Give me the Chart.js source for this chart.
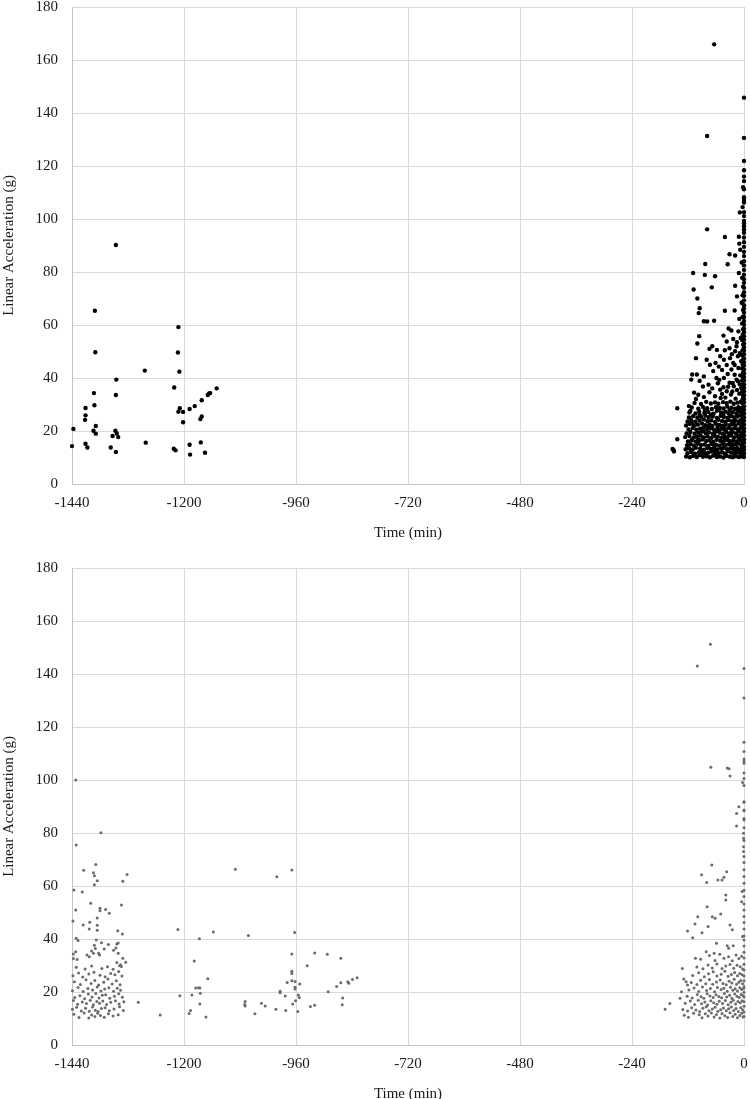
<!DOCTYPE html>
<html>
<head>
<meta charset="utf-8">
<script src="https://cdn.jsdelivr.net/npm/chart.js@4.4.1/dist/chart.umd.min.js"></script>
<style>
  html, body { margin: 0; padding: 0; background: #fff; overflow: hidden; }
  .box { position: absolute; left: 0; width: 750px; height: 550px; }
</style>
</head>
<body>
<div class="box" style="top:0"><canvas id="chartTop"></canvas></div>
<div class="box" style="top:561px"><canvas id="chartBottom"></canvas></div>
<script>
// axes
const timeTicks = [-1440, -1200, -960, -720, -480, -240, 0];
const accelTicks = [0, 20, 40, 60, 80, 100, 120, 140, 160, 180];

// ---- top chart (black) ----
// [time (min), acceleration (g)]
const topEarly = [
  [-1437,20.8],[-1440,14.3],[-1411,28.7],[-1411,25.9],[-1412,24.2],[-1411,15.2],[-1407,13.8],[-1391,65.4],
  [-1390,49.7],[-1393,34.3],[-1392,29.7],[-1389,21.9],[-1394,20.1],[-1389,19.0],[-1346,90.2],[-1345,39.4],
  [-1346,33.6],[-1347,20.1],[-1344,19.1],[-1353,18.1],[-1341,17.7],[-1357,13.8],[-1346,12.1],[-1284,42.8],
  [-1282,15.6],[-1212,59.2],[-1213,49.6],[-1210,42.4],[-1221,36.4],[-1209,28.6],[-1212,27.3],[-1202,27.2],
  [-1202,23.3],[-1222,13.3],[-1218,12.7],[-1188,28.3],[-1177,29.4],[-1162,31.6],[-1165,24.5],[-1162,25.5],
  [-1188,14.8],[-1187,11.1],[-1164,15.7],[-1155,11.8],[-1149,33.6],[-1146,34.2],[-1144,34.3],[-1130,36.1]
];

const topLateBlock = [
  [-124,10.4],[-116,10.1],[-109,10.6],[-101,10.2],[-95,10.9],[-88,10.3],[-80,10.5],[-73,10.1],[-66,10.7],[-58,10.2],[-51,10.4],[-44,10.0],[-37,10.6],[-30,10.3],[-24,10.1],[-17,10.5],[-11,10.2],[-6,10.4],
  [-121,11.6],[-113,12.1],[-105,11.4],[-97,11.9],[-90,12.3],[-83,11.5],[-77,11.8],[-69,12.2],[-62,11.3],[-55,11.7],[-47,12.0],[-41,11.5],[-34,12.3],[-27,11.8],[-20,11.4],[-14,12.0],[-8,11.6],
  [-125,13.1],[-118,13.5],[-110,13.0],[-103,13.7],[-94,13.3],[-86,12.9],[-79,13.6],[-71,13.2],[-64,13.8],[-57,13.0],[-49,13.4],[-43,13.7],[-36,13.1],[-29,13.5],[-22,13.2],[-15,13.6],[-9,13.0],[-5,13.4],
  [-122,14.6],[-114,15.0],[-107,14.5],[-99,15.2],[-92,14.7],[-84,14.9],[-76,14.4],[-68,15.1],[-60,14.8],[-53,14.5],[-46,15.2],[-39,14.7],[-32,15.0],[-25,14.6],[-18,14.9],[-12,15.3],[-6,14.7],
  [-120,16.1],[-112,16.6],[-104,16.0],[-96,16.4],[-89,16.8],[-81,16.2],[-74,16.5],[-66,15.9],[-59,16.7],[-51,16.3],[-44,16.0],[-37,16.6],[-31,16.2],[-23,16.5],[-16,16.1],[-10,16.8],[-5,16.4],
  [-126,17.7],[-117,18.1],[-108,17.5],[-101,17.9],[-93,18.3],[-86,17.6],[-78,18.0],[-70,17.4],[-63,18.2],[-56,17.8],[-48,17.5],[-42,18.1],[-35,17.7],[-28,18.3],[-21,17.6],[-14,17.9],[-8,18.2],
  [-123,19.1],[-115,19.6],[-106,19.0],[-98,19.4],[-91,19.8],[-82,19.2],[-75,19.5],[-67,18.9],[-61,19.7],[-52,19.3],[-45,19.0],[-38,19.6],[-30,19.2],[-24,19.5],[-17,19.1],[-11,19.8],[-5,19.4],
  [-119,20.6],[-110,21.1],[-102,20.5],[-94,20.9],[-87,21.3],[-79,20.7],[-71,21.0],[-64,20.4],[-57,21.2],[-49,20.8],[-41,20.5],[-34,21.1],[-27,20.7],[-20,21.0],[-13,20.6],[-7,21.2],
  [-124,22.1],[-116,22.6],[-107,22.0],[-99,22.4],[-90,22.8],[-83,22.2],[-74,22.5],[-68,21.9],[-60,22.7],[-53,22.3],[-46,22.0],[-39,22.6],[-31,22.2],[-25,22.5],[-18,22.1],[-11,22.8],[-5,22.4],
  [-121,23.6],[-113,24.1],[-104,23.5],[-95,23.9],[-86,24.3],[-78,23.7],[-70,24.0],[-62,23.4],[-55,24.2],[-47,23.8],[-40,23.5],[-33,24.1],[-26,23.7],[-19,24.0],[-12,23.6],[-6,24.3],
  [-118,25.1],[-109,25.6],[-100,25.0],[-92,25.4],[-83,25.8],[-76,25.2],[-67,25.5],[-58,24.9],[-50,25.7],[-43,25.3],[-35,25.0],[-28,25.6],[-21,25.2],[-14,25.5],[-8,25.9],
  [-117,27.0],[-104,26.6],[-96,27.4],[-85,26.8],[-77,27.2],[-65,26.5],[-58,27.6],[-49,26.9],[-40,27.3],[-33,26.7],[-24,27.1],[-16,26.6],[-9,27.4],
  [-112,28.9],[-98,28.4],[-88,29.1],[-79,28.6],[-69,28.3],[-60,29.0],[-52,28.7],[-44,28.5],[-36,29.2],[-27,28.8],[-19,28.4],[-12,29.0],[-6,28.6],
  [-106,30.6],[-92,30.2],[-81,31.0],[-71,30.4],[-62,30.8],[-55,30.3],[-45,30.9],[-37,30.5],[-29,31.1],[-22,30.3],[-14,30.7],[-7,31.0],
  [-113,12.7],[-91,11.0],[-62,12.6],[-39,11.0],[-19,12.7],[-98,16.9],[-70,15.5],[-41,17.1],[-26,15.5],[-87,19.9],[-55,20.0],[-32,18.6],
  [-112,23.0],[-77,21.6],[-43,21.7],[-22,23.1],[-95,26.1],[-71,26.2],[-45,26.2],[-29,25.9],[-84,27.9],[-54,28.0],[-31,27.9],[-14,28.0]
];

const topLateSparse = [
  [-64,165.9],[-79,131.3],[-79,96.1],[-41,93.2],[-11,93.3],[-10,90.7],[-9,102.5],
  [-31,86.7],[-19,86.2],[-35,82.9],[-83,83.0],[-5,83.6],[-8,88.4],
  [-109,79.6],[-84,78.9],[-62,78.4],[-11,79.6],[-108,73.4],[-69,74.2],[-19,74.8],[-100,70.0],[-5,68.5],[-15,70.8],
  [-97,64.5],[-95,66.3],[-41,65.4],[-20,65.5],[-10,62.3],[-86,61.4],[-79,61.3],[-64,61.6],[-33,58.7],[-12,57.6],[-27,57.9],
  [-96,55.8],[-100,53.0],[-74,51.0],[-68,52.0],[-44,56.0],[-37,53.8],[-23,54.7],[-16,52.0],[-58,50.6],[-31,51.2],[-7,55.1],[-19,50.1],[-9,49.4],
  [-103,47.5],[-80,46.9],[-73,45.0],[-61,45.7],[-51,48.2],[-43,46.9],[-30,47.5],[-23,45.7],[-13,48.2],[-54,44.3],[-37,44.9],[-6,46.3],
  [-111,41.3],[-101,41.3],[-113,39.4],[-86,40.6],[-76,37.5],[-59,40.0],[-43,40.0],[-51,35.6],[-24,38.1],[-16,39.4],[-35,41.5],[-8,41.0],[-66,42.6],[-27,43.2],[-12,43.8],
  [-98,33.7],[-74,34.6],[-62,33.1],[-103,32.1],[-37,35.0],[-86,32.8],[-50,32.5],[-28,33.8],[-18,32.2],[-10,34.1],[-44,36.5],[-22,36.9],[-6,36.2],[-31,38.2],[-13,38.8],
  [-151,12.8],[-153,13.2],[-150,12.3],[-143,16.9],[-143,28.6],[-118,29.4],[-115,27.6],
  [-56,38.0],[-47,34.0],[-40,32.6],[-34,36.7],[-25,34.9],[-20,41.2],[-15,35.5],[-9,37.6],[-53,39.3],[-68,36.1],
  [-47,43.0],[-20,44.9],[-26,49.0],[-15,53.5],[-41,50.5],[-88,36.8],[-95,38.9],[-107,34.5]
];

const topNearZero = [
  [-3,10.9],[-2,12.4],[-4,13.8],[-3,15.2],[-2,16.5],[-4,18.0],[-3,19.4],[-2,20.8],[-4,22.1],[-3,23.6],[-2,25.0],[-4,26.4],[-3,27.7],
  [-2,29.1],[-4,30.6],[-3,32.0],[-2,33.3],[-4,34.8],[-3,36.1],[-2,37.6],[-4,39.0],[-3,40.5],[-2,42.0],[-4,43.6],[-3,45.1],[-2,47.0],
  [-4,48.6],[-3,50.5],[-2,52.6],[-4,54.3],[-3,56.2],[-2,58.4],[-4,60.6],[-3,63.0],[-2,65.7],[-4,68.3],[-3,71.2],[-2,74.5],[-4,77.8],
  [-2,112.0],[-3,104.5]
];

// acceleration values recorded at time 0
const topAtZero = [145.8,130.6,121.9,118.4,116.0,114.3,111.2,108.2,107.2,106.2,102.6,101.1,99.3,98.3,97.3,96.1,
  94.8,93.0,91.2,89.5,87.6,86.0,84.1,82.5,80.8,79.0,77.3,75.9,74.1,72.4,71.0,69.3,67.5,66.2,64.6,63.0,61.5,60.1,
  58.6,57.3,55.8,54.5,53.0,51.6,50.3,48.9,47.4,46.0,44.7,43.2,41.8,40.4,39.1,37.6,36.3,34.9,33.5,32.1,30.8,29.3,
  28.0,26.6,25.2,23.9,22.4,21.0,19.7,18.3,16.9,15.6,14.1,12.9,11.5,10.2];

// ---- bottom chart (grey) ----
const bottomEarlyUpper = [
  [-1432,100.0],[-1431,75.5],[-1378,80.1],[-1436,58.5],[-1418,57.7],[-1415,65.9],[-1389,68.1],[-1394,65.0],[-1392,63.9],
  [-1386,62.0],[-1392,60.5],[-1322,64.3],[-1331,61.8],[-1432,50.9],[-1400,53.5],[-1380,51.6],[-1380,50.7],[-1368,51.1],
  [-1360,49.7],[-1334,52.8],[-1438,46.8],[-1416,45.3],[-1402,46.3],[-1386,47.9],[-1386,45.2],[-1403,43.8],[-1386,43.3],
  [-1342,43.1],[-1332,41.9],[-1431,40.3],[-1427,39.4],[-1437,34.3],[-1432,35.2],[-1437,32.6],[-1429,32.3],[-1408,34.0],
  [-1398,35.5],[-1403,33.3],[-1388,39.6],[-1377,38.6],[-1362,37.9],[-1392,37.6],[-1390,36.4],[-1394,34.6],[-1383,34.6],
  [-1381,34.0],[-1371,36.2],[-1351,35.8],[-1344,38.1],[-1341,38.5],[-1346,36.6],[-1341,34.6],[-1344,31.1],[-1336,30.3],
  [-1331,32.7],[-1334,29.6],[-1325,31.2]
];

const bottomEarlyDense = [
  [-1436,11.6],[-1425,10.4],[-1414,12.1],[-1404,10.2],[-1398,11.3],[-1391,10.8],[-1385,12.0],[-1379,11.1],[-1371,10.5],[-1362,11.8],[-1352,10.9],[-1341,11.4],
  [-1439,13.5],[-1430,14.2],[-1420,12.8],[-1411,13.9],[-1403,12.7],[-1396,14.3],[-1390,13.1],[-1384,12.6],[-1377,13.8],[-1369,14.1],[-1360,12.9],[-1350,13.6],[-1338,14.4],[-1330,13.0],
  [-1437,16.8],[-1428,15.4],[-1418,16.2],[-1409,15.7],[-1401,16.9],[-1394,15.2],[-1387,16.4],[-1381,15.8],[-1374,16.6],[-1366,15.3],[-1357,16.1],[-1347,16.7],[-1339,15.5],[-1329,16.3],
  [-1434,17.9],[-1423,18.6],[-1413,17.5],[-1405,19.2],[-1397,18.1],[-1389,19.4],[-1382,17.7],[-1375,18.8],[-1368,19.0],[-1359,17.6],[-1349,18.4],[-1340,19.3],[-1332,18.0],
  [-1439,20.5],[-1427,21.7],[-1416,20.2],[-1406,21.3],[-1396,20.8],[-1386,21.9],[-1378,20.4],[-1370,21.1],[-1361,21.6],[-1351,20.3],[-1343,21.4],[-1336,20.7],
  [-1435,23.9],[-1422,22.8],[-1410,24.6],[-1399,23.2],[-1391,24.3],[-1383,22.6],[-1372,23.7],[-1363,24.9],[-1354,23.0],[-1345,24.2],[-1337,22.7],
  [-1438,26.1],[-1426,27.2],[-1417,25.7],[-1404,26.8],[-1393,27.5],[-1380,26.3],[-1369,25.8],[-1357,27.0],[-1348,26.5],[-1340,27.7],[-1333,26.0],
  [-1431,29.3],[-1412,28.7],[-1398,29.8],[-1376,28.9],[-1364,29.5],[-1352,28.6],[-1338,29.9]
];

const bottomMiddle = [
  [-1298,16.1],[-1251,11.3],[-1213,43.6],[-1209,18.6],[-1183,18.9],[-1178,31.7],[-1175,21.5],[-1169,21.6],[-1166,21.5],
  [-1165,19.5],[-1167,40.1],[-1166,15.5],[-1186,13.0],[-1189,11.9],[-1153,10.6],[-1149,25.0],[-1137,42.6],[-1090,66.3],
  [-1062,41.3],[-1001,63.5],[-969,66.0],[-963,42.5],[-969,34.3],[-920,34.7],[-893,34.2],[-864,32.7],[-936,29.9],
  [-969,27.8],[-969,27.0],[-979,23.6],[-969,24.2],[-962,24.0],[-952,23.0],[-962,21.8],[-962,21.1],[-994,20.3],
  [-994,19.7],[-983,18.5],[-955,18.9],[-953,17.9],[-961,16.7],[-967,15.5],[-956,12.6],[-982,13.0],[-1003,13.5],
  [-1026,14.7],[-1034,15.8],[-1069,16.4],[-1070,15.3],[-1069,14.7],[-1048,11.8],[-929,14.5],[-920,15.0],[-891,20.1],
  [-873,22.1],[-864,23.5],[-849,23.9],[-847,23.3],[-839,24.7],[-829,25.4],[-860,17.7],[-861,15.2]
];

const bottomLateSparse = [
  [-72,151.2],[-100,143.0],[-71,104.8],[-36,104.5],[-32,104.2],[-30,101.5],[-3,99.1],[-11,89.9],[-16,87.4],[-16,82.6],
  [-1,79.9],[-1,78.0],[-1,74.8],[-1,73.0],
  [-69,67.9],[-91,64.2],[-80,61.3],[-37,65.4],[-43,63.3],[-56,62.3],[-47,62.3],[-4,57.9],[-39,56.6],[-39,54.7],[-5,54.1],
  [-79,52.2],[-99,48.4],[-68,48.4],[-50,49.4],[-105,45.7],[-77,44.7],[-62,47.8],[-30,45.3],[-25,43.5],[-121,43.0],
  [-110,40.5],[-3,40.9],[-90,42.4],[-59,38.4],[-36,37.5],[-33,36.5],[-23,37.5],[-104,32.7],[-81,35.2],[-64,34.6],
  [-132,28.9],[-129,24.9],[-124,23.9],[-121,22.6],[-134,20.1],[-137,17.6],[-159,15.7],[-169,13.5]
];

const bottomLateDense = [
  [-128,11.2],[-119,10.5],[-108,12.0],[-96,11.4],[-90,10.3],[-83,11.8],[-77,10.9],[-70,12.1],[-64,10.6],[-59,11.5],[-52,10.2],[-47,11.9],[-41,11.0],[-35,10.4],[-30,12.2],[-24,10.8],[-19,11.6],[-14,10.3],[-9,11.1],[-5,12.0],[-2,10.6],
  [-131,13.4],[-121,12.8],[-112,14.1],[-103,13.2],[-95,12.6],[-88,13.9],[-81,14.4],[-75,12.9],[-68,13.6],[-62,14.2],[-56,12.7],[-50,13.3],[-44,14.0],[-38,12.9],[-33,13.7],[-27,14.3],[-22,13.0],[-17,13.8],[-12,12.6],[-7,14.1],[-3,13.3],
  [-126,15.8],[-115,16.6],[-106,15.3],[-98,16.9],[-91,15.6],[-84,16.2],[-78,15.1],[-71,16.7],[-65,15.9],[-58,15.4],[-53,16.5],[-46,15.7],[-40,16.8],[-34,15.2],[-28,16.1],[-23,16.9],[-18,15.5],[-13,16.4],[-8,15.9],[-4,16.7],
  [-122,18.4],[-111,17.7],[-100,19.1],[-92,18.2],[-86,17.6],[-79,19.3],[-73,18.5],[-66,17.9],[-60,19.0],[-54,18.3],[-48,17.8],[-42,19.4],[-37,18.1],[-31,18.8],[-26,17.6],[-20,19.2],[-15,18.4],[-10,17.9],[-6,19.1],[-2,18.6],
  [-118,20.8],[-107,21.5],[-97,20.2],[-89,21.9],[-80,20.6],[-72,21.3],[-63,20.1],[-57,21.7],[-49,20.9],[-43,21.4],[-36,20.3],[-29,21.8],[-24,20.7],[-19,21.2],[-14,20.4],[-9,21.6],[-5,20.9],[-1,21.3],
  [-113,23.6],[-101,22.8],[-93,24.4],[-82,23.1],[-74,24.7],[-67,22.9],[-59,23.8],[-51,24.5],[-45,23.2],[-38,22.7],[-32,24.1],[-26,23.4],[-21,24.8],[-16,22.9],[-11,23.7],[-7,24.3],[-3,23.1],
  [-110,26.2],[-97,27.3],[-85,25.8],[-76,26.9],[-66,27.6],[-58,26.0],[-49,26.7],[-41,27.8],[-34,25.9],[-27,26.6],[-20,27.4],[-14,26.1],[-9,27.0],[-4,26.5],
  [-101,29.4],[-88,28.8],[-77,30.2],[-68,29.1],[-58,30.6],[-47,28.9],[-39,29.8],[-30,30.4],[-22,29.0],[-15,30.1],[-8,29.5],[-3,28.7],
  [-93,32.4],[-74,33.8],[-62,31.9],[-52,34.2],[-43,32.7],[-33,33.3],[-25,31.8],[-17,34.0],[-11,32.6],[-5,33.5]
];

const bottomAtZero = [142.1,130.9,114.2,110.8,107.9,107.2,106.3,102.6,100.6,97.9,91.8,91.6,88.7,88.4,85.5,84.9,82.0,
  77.2,71.1,68.9,66.1,63.6,61.0,58.4,56.0,53.2,50.9,48.5,46.2,43.8,41.1,39.6,37.4,35.0,32.8,30.5,28.3,26.0,24.2,
  22.0,19.9,18.1,16.3,14.6,12.5,10.8];

const toPoints = list => list.map(p => ({ x: p[0], y: p[1] }));
const zeroPoints = ys => ys.map(v => ({ x: 0, y: v }));

const FONT = "'Liberation Serif', 'Times New Roman', serif";
const TEXT = '#1a1a1a';

function makeChart(id, points, color, radius) {
  const ctx = document.getElementById(id).getContext('2d');
  return new Chart(ctx, {
    type: 'scatter',
    data: {
      datasets: [{
        data: points,
        backgroundColor: color,
        borderWidth: 0,
        pointRadius: radius,
        pointHoverRadius: radius,
        clip: false
      }]
    },
    options: {
      responsive: true,
      maintainAspectRatio: false,
      animation: false,
      layout: { padding: { left: 0, right: 6, top: 7, bottom: 0 } },
      plugins: { legend: { display: false }, tooltip: { enabled: false } },
      scales: {
        x: {
          type: 'linear',
          min: timeTicks[0],
          max: timeTicks[timeTicks.length - 1],
          afterBuildTicks: s => { s.ticks = timeTicks.map(v => ({ value: v })); },
          ticks: {
            color: TEXT, font: { family: FONT, size: 15 }, padding: 10,
            maxRotation: 0, autoSkip: false,
            callback: v => String(v)
          },
          grid: { color: '#d9d9d9', drawTicks: false },
          border: { color: '#c4c4c4' },
          title: {
            display: true, text: 'Time (min)', color: TEXT,
            font: { family: FONT, size: 15 }, padding: { top: 0, bottom: 8 }
          },
          afterFit: s => { s.height = 66; s.paddingLeft = 0; s.paddingRight = 0; }
        },
        y: {
          type: 'linear',
          min: accelTicks[0],
          max: accelTicks[accelTicks.length - 1],
          afterBuildTicks: s => { s.ticks = accelTicks.map(v => ({ value: v })); },
          ticks: {
            color: TEXT, font: { family: FONT, size: 15 }, padding: 14,
            callback: v => String(v)
          },
          grid: { color: '#d9d9d9', drawTicks: false },
          border: { color: '#c4c4c4' },
          title: {
            display: true, text: 'Linear Acceleration (g)', color: TEXT,
            font: { family: FONT, size: 15 }, padding: { top: 0, bottom: 0 }
          },
          afterFit: s => { s.width = 72; s.paddingTop = 0; s.paddingBottom = 0; }
        }
      }
    }
  });
}

const topPoints = [].concat(
  toPoints(topEarly), toPoints(topLateBlock), toPoints(topLateSparse),
  toPoints(topNearZero), zeroPoints(topAtZero)
);
const bottomPoints = [].concat(
  toPoints(bottomEarlyUpper), toPoints(bottomEarlyDense), toPoints(bottomMiddle),
  toPoints(bottomLateSparse), toPoints(bottomLateDense), zeroPoints(bottomAtZero)
);

makeChart('chartTop', topPoints, '#000000', 2.2);
makeChart('chartBottom', bottomPoints, '#6b6b6b', 1.5);
</script>
</body>
</html>
